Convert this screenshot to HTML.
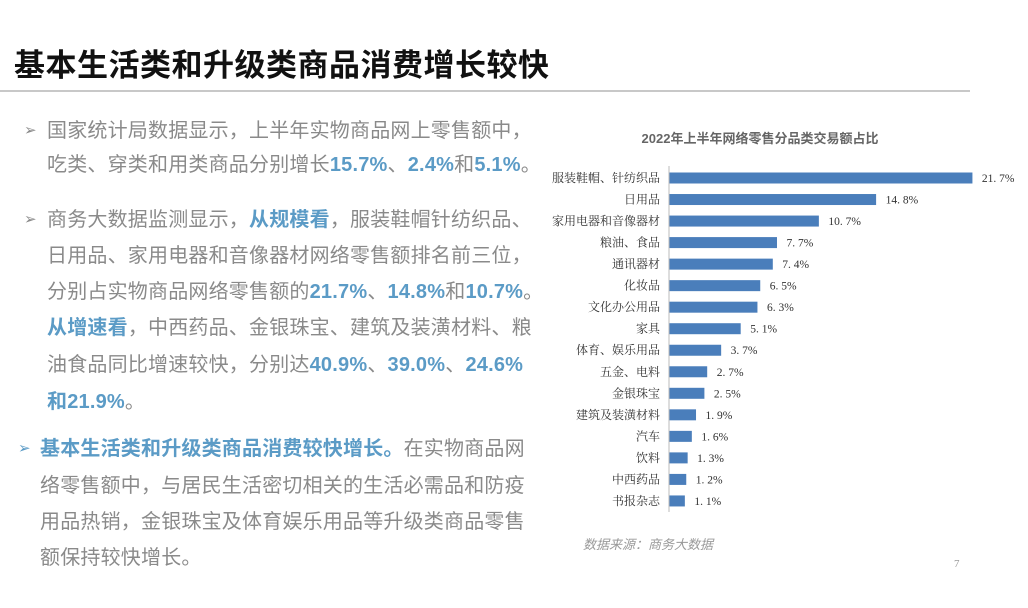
<!DOCTYPE html>
<html><head><meta charset="utf-8"><style>
body{margin:0;width:1028px;height:608px;background:#fff;position:relative;overflow:hidden;font-family:"Liberation Sans","Noto Sans CJK SC",sans-serif}
.t{position:absolute;left:14px;top:40px;font-size:31px;font-weight:bold;color:#111;letter-spacing:0.5px}
.hr{position:absolute;left:0;top:90px;width:970px;height:2px;background:#c8c8c8}
.l{position:absolute;font-size:20px;letter-spacing:0.2px;color:#8a8a8a;white-space:nowrap;line-height:24px}
.b{color:#5b9bc6;font-weight:bold}
.ar{position:absolute;font-size:15px;color:#8a8a8a}
</style></head><body>
<div class="t">基本生活类和升级类商品消费增长较快</div>
<div class="hr"></div>
<div class="ar" style="left:24px;top:121px">➢</div>
<div class="l" style="left:47px;top:119px">国家统计局数据显示，上半年实物商品网上零售额中，</div>
<div class="l" style="left:47px;top:153px">吃类、穿类和用类商品分别增长<span class="b">15.7%</span>、<span class="b">2.4%</span>和<span class="b">5.1%</span>。</div>
<div class="ar" style="left:24px;top:210px">➢</div>
<div class="l" style="left:47px;top:208px">商务大数据监测显示，<span class="b">从规模看</span>，服装鞋帽针纺织品、</div>
<div class="l" style="left:47px;top:244px">日用品、家用电器和音像器材网络零售额排名前三位，</div>
<div class="l" style="left:47px;top:280px">分别占实物商品网络零售额的<span class="b">21.7%</span>、<span class="b">14.8%</span>和<span class="b">10.7%</span>。</div>
<div class="l" style="left:47px;top:316px"><span class="b">从增速看</span>，中西药品、金银珠宝、建筑及装潢材料、粮</div>
<div class="l" style="left:47px;top:353px">油食品同比增速较快，分别达<span class="b">40.9%</span>、<span class="b">39.0%</span>、<span class="b">24.6%</span></div>
<div class="l" style="left:47px;top:390px"><span class="b">和21.9%</span>。</div>
<div class="ar" style="left:18px;top:439px;color:#5b9bc6">➢</div>
<div class="l" style="left:40px;top:437px"><span class="b">基本生活类和升级类商品消费较快增长。</span>在实物商品网</div>
<div class="l" style="left:40px;top:474px">络零售额中，与居民生活密切相关的生活必需品和防疫</div>
<div class="l" style="left:40px;top:510px">用品热销，金银珠宝及体育娱乐用品等升级类商品零售</div>
<div class="l" style="left:40px;top:546px">额保持较快增长。</div>
<svg width="1028" height="608" style="position:absolute;left:0;top:0" font-family="Liberation Serif,Noto Serif CJK SC,serif">
<text x="760" y="143" text-anchor="middle" font-family="Liberation Sans,Noto Sans CJK SC,sans-serif" font-weight="bold" font-size="13" fill="#666">2022年上半年网络零售分品类交易额占比</text>
<line x1="669" y1="166" x2="669" y2="512" stroke="#bbb" stroke-width="1"/>
<g id="bars"></g>
<text x="583" y="549" font-family="Liberation Sans,Noto Sans CJK SC,sans-serif" font-style="italic" font-size="13" fill="#999">数据来源：商务大数据</text>
<text x="954" y="567" font-size="11" fill="#999">7</text>
</svg>
<script>
var d=[["服装鞋帽、针纺织品",21.7],["日用品",14.8],["家用电器和音像器材",10.7],["粮油、食品",7.7],["通讯器材",7.4],["化妆品",6.5],["文化办公用品",6.3],["家具",5.1],["体育、娱乐用品",3.7],["五金、电料",2.7],["金银珠宝",2.5],["建筑及装潢材料",1.9],["汽车",1.6],["饮料",1.3],["中西药品",1.2],["书报杂志",1.1]];
var g=document.getElementById('bars'),s='';
d.forEach(function(r,i){var y=178+i*21.53,w=r[1]*13.96;
s+='<rect x="669.5" y="'+(y-5.5)+'" width="'+w+'" height="11" fill="#4a7ebb"/>';
s+='<text x="660" y="'+(y+4)+'" text-anchor="end" font-size="12" fill="#333">'+r[0]+'</text>';
s+='<text x="'+(669+w+10)+'" y="'+(y+4)+'" font-size="11.5" fill="#333">'+r[1].toFixed(1).replace('.','. ')+'%</text>';});
g.innerHTML=s;
</script>
</body></html>
